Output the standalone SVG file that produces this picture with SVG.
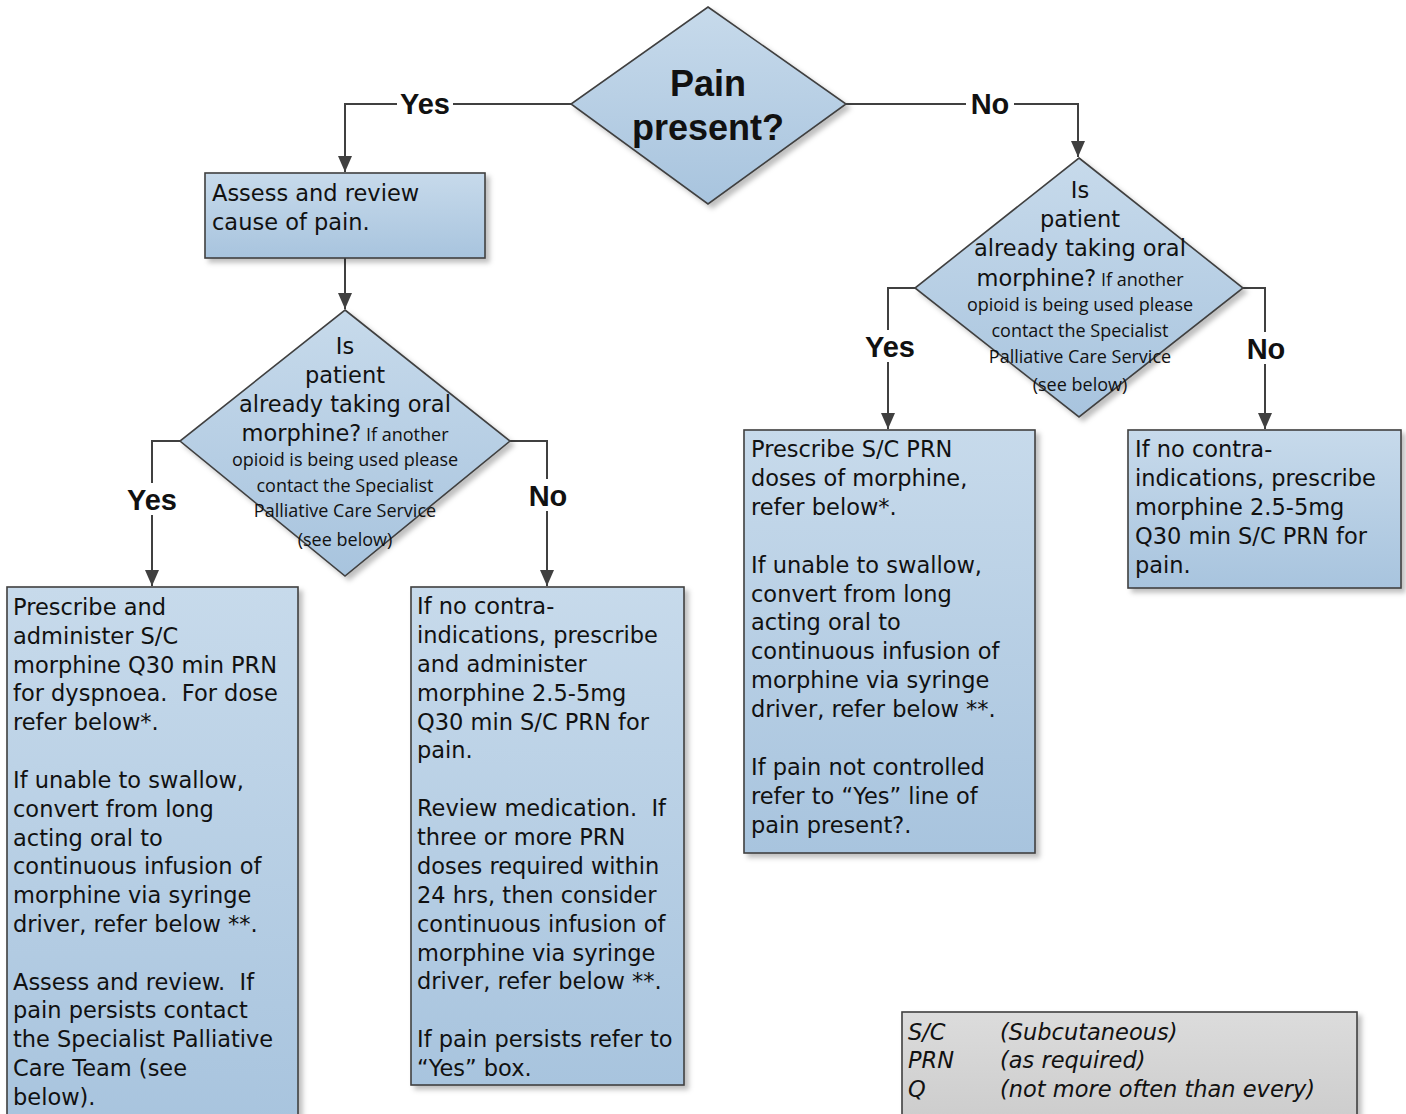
<svg xmlns="http://www.w3.org/2000/svg" width="1406" height="1114" viewBox="0 0 1406 1114">
<style>
.shape{fill:url(#blue);stroke:#404040;stroke-width:1.6;filter:url(#sh)}
.legend{fill:url(#gray);stroke:#404040;stroke-width:1.6;filter:url(#sh)}
.body{font-family:"DejaVu Sans",sans-serif;font-size:22.5px;fill:#111}
.small{font-family:"Open Sans",sans-serif;font-size:18px;fill:#111}
.lbl{font-family:"Liberation Sans",Arial,sans-serif;font-weight:bold;font-size:29px;fill:#111;text-anchor:middle}
.title{font-family:"Liberation Sans",Arial,sans-serif;font-weight:bold;font-size:36px;fill:#111;text-anchor:middle}
.mid{text-anchor:middle}
.conn{fill:none;stroke:#404040;stroke-width:2;marker-end:url(#arr)}
.it{font-family:"DejaVu Sans",sans-serif;font-style:italic;font-size:22.5px;fill:#111}
</style>
<defs>
<linearGradient id="blue" x1="0" y1="0" x2="0" y2="1">
<stop offset="0" stop-color="#c7daeb"/>
<stop offset="1" stop-color="#a8c4de"/>
</linearGradient>
<linearGradient id="gray" x1="0" y1="0" x2="0" y2="1">
<stop offset="0" stop-color="#dcdcdc"/>
<stop offset="1" stop-color="#cbcbcb"/>
</linearGradient>
<filter id="sh" x="-10%" y="-10%" width="130%" height="130%">
<feDropShadow dx="4" dy="4" stdDeviation="2.5" flood-color="#000" flood-opacity="0.25"/>
</filter>
<marker id="arr" viewBox="0 0 16 14" refX="16" refY="7" markerWidth="16" markerHeight="14" markerUnits="userSpaceOnUse" orient="auto">
<path d="M0,0 L16,7 L0,14 z" fill="#404040"/>
</marker>
</defs>
<rect width="1406" height="1114" fill="#fff"/>

<g id="connectors">
<path class="conn" d="M571,104 H345 V172"/>
<path class="conn" d="M846,104 H1078 V157"/>
<path class="conn" d="M345,258 V309"/>
<path class="conn" d="M180,441 H152 V586"/>
<path class="conn" d="M510,441 H547 V586"/>
<path class="conn" d="M915,288 H888 V429"/>
<path class="conn" d="M1243,288 H1265 V429"/>
<g fill="#fff">
<rect x="397" y="88" width="56" height="32"/>
<rect x="966" y="88" width="48" height="32"/>
<rect x="124" y="483" width="56" height="32"/>
<rect x="526" y="479" width="44" height="32"/>
<rect x="862" y="330" width="56" height="32"/>
<rect x="1244" y="332" width="44" height="32"/>
</g>
<text class="lbl" x="425" y="114">Yes</text>
<text class="lbl" x="990" y="114">No</text>
<text class="lbl" x="152" y="510">Yes</text>
<text class="lbl" x="548" y="506">No</text>
<text class="lbl" x="890" y="357">Yes</text>
<text class="lbl" x="1266" y="359">No</text>
</g>

<g id="pain-present">
<path class="shape" d="M708,7 L846,104 L708,204 L571,104 Z"/>
<text class="title" x="708" y="96">Pain</text>
<text class="title" x="708" y="140">present?</text>
</g>

<g id="assess">
<rect class="shape" x="205" y="173" width="280" height="85"/>
<text class="body" x="212" y="201">Assess and review</text>
<text class="body" x="212" y="230">cause of pain.</text>
</g>

<g id="oral-left">
<path class="shape" d="M345,310 L510,441 L345,576 L180,441 Z"/>
<text class="body mid" x="345" y="354">Is</text>
<text class="body mid" x="345" y="383">patient</text>
<text class="body mid" x="345" y="412">already taking oral</text>
<text class="body mid" x="345" y="441">morphine?<tspan class="small"> If another</tspan></text>
<text class="small mid" x="345" y="466">opioid is being used please</text>
<text class="small mid" x="345" y="492">contact the Specialist</text>
<text class="small mid" x="345" y="517">Palliative Care Service</text>
<text class="small mid" x="345" y="546">(see below)</text>
</g>

<g id="oral-right">
<path class="shape" d="M1079,158 L1243,288 L1079,417 L915,288 Z"/>
<text class="body mid" x="1080" y="198">Is</text>
<text class="body mid" x="1080" y="227">patient</text>
<text class="body mid" x="1080" y="256">already taking oral</text>
<text class="body mid" x="1080" y="286">morphine?<tspan class="small"> If another</tspan></text>
<text class="small mid" x="1080" y="311">opioid is being used please</text>
<text class="small mid" x="1080" y="337">contact the Specialist</text>
<text class="small mid" x="1080" y="363">Palliative Care Service</text>
<text class="small mid" x="1080" y="391">(see below)</text>
</g>

<g id="box-left-yes">
<rect class="shape" x="7" y="587" width="291" height="540"/>
<text class="body" x="13" y="615" xml:space="preserve"><tspan x="13">Prescribe and</tspan><tspan x="13" dy="28.82">administer S/C</tspan><tspan x="13" dy="28.82">morphine Q30 min PRN</tspan><tspan x="13" dy="28.82">for dyspnoea.  For dose</tspan><tspan x="13" dy="28.82">refer below*.</tspan><tspan x="13" dy="57.64">If unable to swallow,</tspan><tspan x="13" dy="28.82">convert from long</tspan><tspan x="13" dy="28.82">acting oral to</tspan><tspan x="13" dy="28.82">continuous infusion of</tspan><tspan x="13" dy="28.82">morphine via syringe</tspan><tspan x="13" dy="28.82">driver, refer below **.</tspan><tspan x="13" dy="57.64">Assess and review.  If</tspan><tspan x="13" dy="28.82">pain persists contact</tspan><tspan x="13" dy="28.82">the Specialist Palliative</tspan><tspan x="13" dy="28.82">Care Team (see</tspan><tspan x="13" dy="28.82">below).</tspan></text>
</g>

<g id="box-left-no">
<rect class="shape" x="411" y="587" width="273" height="498"/>
<text class="body" x="417" y="614" xml:space="preserve"><tspan x="417">If no contra-</tspan><tspan x="417" dy="28.875">indications, prescribe</tspan><tspan x="417" dy="28.875">and administer</tspan><tspan x="417" dy="28.875">morphine 2.5-5mg</tspan><tspan x="417" dy="28.875">Q30 min S/C PRN for</tspan><tspan x="417" dy="28.875">pain.</tspan><tspan x="417" dy="57.75">Review medication.  If</tspan><tspan x="417" dy="28.875">three or more PRN</tspan><tspan x="417" dy="28.875">doses required within</tspan><tspan x="417" dy="28.875">24 hrs, then consider</tspan><tspan x="417" dy="28.875">continuous infusion of</tspan><tspan x="417" dy="28.875">morphine via syringe</tspan><tspan x="417" dy="28.875">driver, refer below **.</tspan><tspan x="417" dy="57.75">If pain persists refer to</tspan><tspan x="417" dy="28.875">“Yes” box.</tspan></text>
</g>

<g id="box-right-yes">
<rect class="shape" x="744" y="430" width="291" height="423"/>
<text class="body" x="751" y="457" xml:space="preserve"><tspan x="751">Prescribe S/C PRN</tspan><tspan x="751" dy="28.9">doses of morphine,</tspan><tspan x="751" dy="28.9">refer below*.</tspan><tspan x="751" dy="57.8">If unable to swallow,</tspan><tspan x="751" dy="28.9">convert from long</tspan><tspan x="751" dy="28.9">acting oral to</tspan><tspan x="751" dy="28.9">continuous infusion of</tspan><tspan x="751" dy="28.9">morphine via syringe</tspan><tspan x="751" dy="28.9">driver, refer below **.</tspan><tspan x="751" dy="57.8">If pain not controlled</tspan><tspan x="751" dy="28.9">refer to “Yes” line of</tspan><tspan x="751" dy="28.9">pain present?.</tspan></text>
</g>

<g id="box-right-no">
<rect class="shape" x="1128" y="430" width="273" height="158"/>
<text class="body" x="1135" y="457"><tspan x="1135">If no contra-</tspan><tspan x="1135" dy="29">indications, prescribe</tspan><tspan x="1135" dy="29">morphine 2.5-5mg</tspan><tspan x="1135" dy="29">Q30 min S/C PRN for</tspan><tspan x="1135" dy="29">pain.</tspan></text>
</g>

<g id="legend">
<rect class="legend" x="902" y="1012" width="455" height="120"/>
<text class="it" x="908" y="1040">S/C</text>
<text class="it" x="1000" y="1040">(Subcutaneous)</text>
<text class="it" x="908" y="1068">PRN</text>
<text class="it" x="1000" y="1068">(as required)</text>
<text class="it" x="908" y="1097">Q</text>
<text class="it" x="1000" y="1097">(not more often than every)</text>
</g>
</svg>
